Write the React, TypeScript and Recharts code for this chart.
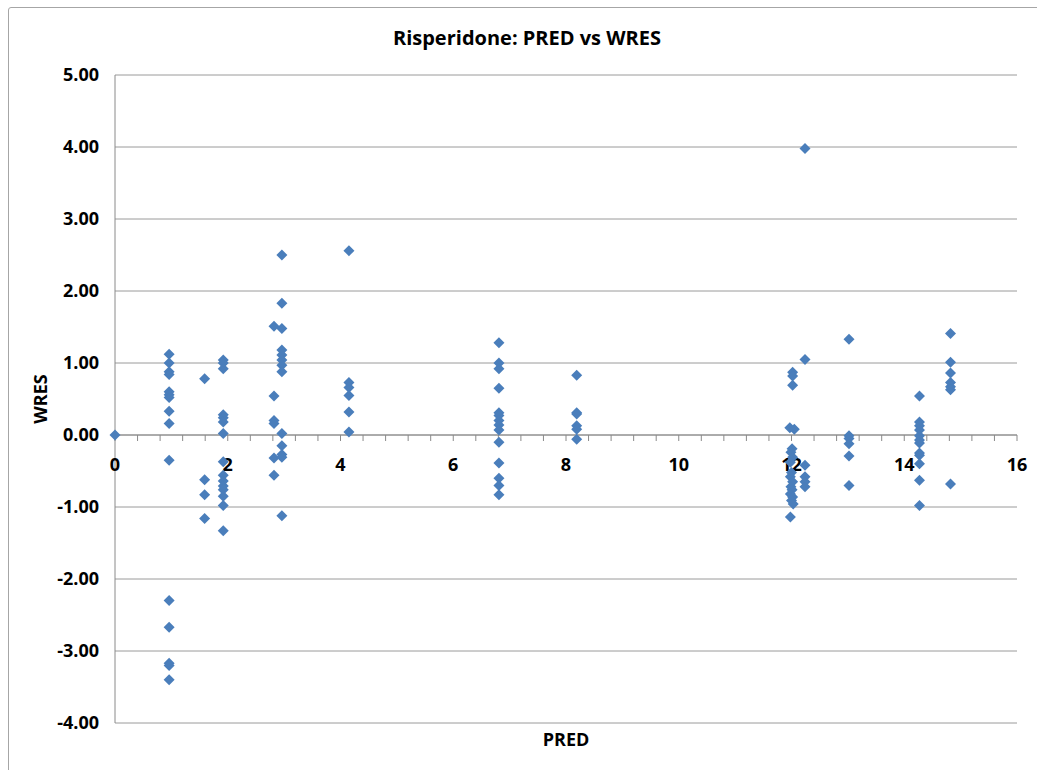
import React from 'react';
import {
  ScatterChart,
  Scatter,
  XAxis,
  YAxis,
  CartesianGrid,
  ReferenceLine,
  Label,
} from 'recharts';

// Population predictions (PRED) and weighted residuals (WRES), one entry per observation.
const PRED: number[] = [
  0,
  0.96, 0.96, 0.96, 0.96, 0.96, 0.96, 0.96, 0.96, 0.96, 0.96, 0.96, 0.96, 0.96, 0.96, 0.96,
  1.59, 1.59, 1.59, 1.59,
  1.92, 1.92, 1.92, 1.92, 1.92, 1.92, 1.92, 1.92, 1.92, 1.92, 1.92, 1.92, 1.92, 1.92, 1.92,
  2.82, 2.82, 2.82, 2.82, 2.82, 2.82,
  2.96, 2.96, 2.96, 2.96, 2.96, 2.96, 2.96, 2.96, 2.96, 2.96, 2.96, 2.96, 2.96,
  4.15, 4.15, 4.15, 4.15, 4.15, 4.15,
  6.81, 6.81, 6.81, 6.81, 6.81, 6.81, 6.81, 6.81, 6.81, 6.81, 6.81, 6.81, 6.81, 6.81,
  8.19, 8.19, 8.19, 8.19, 8.19, 8.19,
  12.02, 12.02, 12.02, 11.97, 12.05, 12.01, 11.99, 12.02, 11.98, 12.0, 11.98, 12.02, 11.99, 12.01, 11.98, 12.02, 12.0, 12.03, 11.98,
  12.24, 12.24, 12.24, 12.24, 12.24, 12.24,
  13.02, 13.02, 13.02, 13.02, 13.02, 13.02,
  14.27, 14.27, 14.27, 14.27, 14.27, 14.27, 14.27, 14.27, 14.27, 14.27, 14.27, 14.27,
  14.82, 14.82, 14.82, 14.82, 14.82, 14.82, 14.82,
];

const WRES: number[] = [
  0,
  1.12, 1.0, 0.88, 0.84, 0.6, 0.56, 0.52, 0.33, 0.16, -0.35, -2.3, -2.67, -3.17, -3.2, -3.4,
  0.78, -0.62, -0.83, -1.16,
  1.04, 1.0, 0.92, 0.28, 0.24, 0.18, 0.02, -0.37, -0.56, -0.64, -0.71, -0.76, -0.85, -0.98, -1.33,
  1.51, 0.54, 0.2, 0.16, -0.32, -0.56,
  2.5, 1.83, 1.48, 1.18, 1.11, 1.04, 0.97, 0.88, 0.02, -0.15, -0.27, -0.31, -1.12,
  2.56, 0.73, 0.66, 0.55, 0.32, 0.04,
  1.28, 1.0, 0.92, 0.65, 0.31, 0.27, 0.2, 0.14, 0.07, -0.1, -0.39, -0.6, -0.7, -0.83,
  0.83, 0.31, 0.29, 0.13, 0.08, -0.06,
  0.87, 0.82, 0.69, 0.1, 0.08, -0.19, -0.24, -0.31, -0.38, -0.52, -0.58, -0.65, -0.72, -0.76, -0.82, -0.86, -0.91, -0.96, -1.14,
  3.98, 1.05, -0.42, -0.58, -0.65, -0.72,
  1.33, -0.01, -0.05, -0.12, -0.29, -0.7,
  0.54, 0.18, 0.13, 0.07, -0.01, -0.07, -0.11, -0.25, -0.28, -0.4, -0.63, -0.98,
  1.41, 1.01, 0.86, 0.73, 0.67, 0.63, -0.68,
];

// Axis tick values
const X_MAJOR_TICKS: number[] = [0, 2, 4, 6, 8, 10, 12, 14, 16];
const X_MINOR_STEP = 0.4;
const Y_TICKS: number[] = [-4, -3, -2, -1, 0, 1, 2, 3, 4, 5];

const points = PRED.map((pred, i) => ({ pred, wres: WRES[i] }));

// Tick marks along the horizontal axis, which crosses at WRES = 0
const axisTicks: { pred: number; wres: number; label: string | null }[] = [];
for (let k = 0; k * X_MINOR_STEP <= 16 + 1e-9; k++) {
  const t = Math.round(k * X_MINOR_STEP * 10) / 10;
  axisTicks.push({ pred: t, wres: 0, label: X_MAJOR_TICKS.includes(t) ? String(t) : null });
}

const FONT = "'Open Sans', 'DejaVu Sans', sans-serif";
const AXIS_GREY = '#8a8a8a';
const GRID_GREY = '#9a9a9a';
const MARKER_BLUE = '#4A7EBB';

const Diamond = (props: any) => {
  const { cx, cy } = props;
  const r = 5.5;
  return (
    <polygon
      points={`${cx},${cy - r} ${cx + r},${cy} ${cx},${cy + r} ${cx - r},${cy}`}
      fill={MARKER_BLUE}
    />
  );
};

const AxisTick = (props: any) => {
  const { cx, cy, payload } = props;
  return (
    <g>
      <line x1={cx} y1={cy} x2={cx} y2={cy + 6} stroke={AXIS_GREY} strokeWidth={1} />
      {payload.label != null && (
        <text
          x={cx}
          y={cy + 29}
          textAnchor="middle"
          dominantBaseline="central"
          fontFamily={FONT}
          fontWeight={700}
          fontSize={18}
          fill="#000"
        >
          {payload.label}
        </text>
      )}
    </g>
  );
};

const WresLabel = (props: any) => {
  const vb = props.viewBox || {};
  const x = (vb.x ?? 0) + 40;
  const y = (vb.y ?? 0) + (vb.height ?? 0) / 2;
  return (
    <text
      x={x}
      y={y}
      transform={`rotate(-90 ${x} ${y})`}
      textAnchor="middle"
      dominantBaseline="central"
      fontFamily={FONT}
      fontWeight={700}
      fontSize={18}
      fill="#000"
    >
      WRES
    </text>
  );
};

export default function App() {
  return (
    <div
      style={{
        position: 'absolute',
        left: 0,
        top: 0,
        width: 1037,
        height: 770,
        overflow: 'hidden',
        background: '#fff',
      }}
    >
      <div
        style={{
          position: 'absolute',
          left: 8,
          top: 7,
          width: 1100,
          height: 900,
          border: '1px solid #a6a6a6',
          borderRadius: 3,
        }}
      />
      <div
        style={{
          position: 'absolute',
          left: 0,
          top: 24,
          width: 1054,
          textAlign: 'center',
          fontFamily: FONT,
          fontWeight: 700,
          fontSize: 20,
          lineHeight: '28px',
          color: '#000',
        }}
      >
        Risperidone: PRED vs WRES
      </div>
      <div style={{ position: 'absolute', left: 0, top: 0 }}>
        <ScatterChart
          width={1037}
          height={770}
          margin={{ top: 75, right: 20, bottom: 7, left: 0 }}
        >
          <CartesianGrid vertical={false} stroke={GRID_GREY} strokeWidth={1} />
          <XAxis
            type="number"
            dataKey="pred"
            domain={[0, 16]}
            ticks={X_MAJOR_TICKS}
            tick={false}
            tickLine={false}
            axisLine={false}
            height={40}
          >
            <Label
              value="PRED"
              position="insideTop"
              offset={10}
              style={{ fontFamily: FONT, fontWeight: 700, fontSize: 18, fill: '#000' }}
            />
          </XAxis>
          <YAxis
            type="number"
            dataKey="wres"
            domain={[-4, 5]}
            ticks={Y_TICKS}
            interval={0}
            tickFormatter={(v: number) => v.toFixed(2)}
            width={115}
            tickLine={false}
            tickMargin={10}
            axisLine={{ stroke: AXIS_GREY }}
            tick={{ fontFamily: FONT, fontWeight: 700, fontSize: 18, fill: '#000' }}
            label={<WresLabel />}
          />
          <ReferenceLine y={0} stroke={AXIS_GREY} strokeWidth={1} />
          <Scatter
            data={axisTicks}
            shape={<AxisTick />}
            isAnimationActive={false}
            legendType="none"
          />
          <Scatter
            data={points}
            shape={<Diamond />}
            isAnimationActive={false}
          />
        </ScatterChart>
      </div>
    </div>
  );
}
